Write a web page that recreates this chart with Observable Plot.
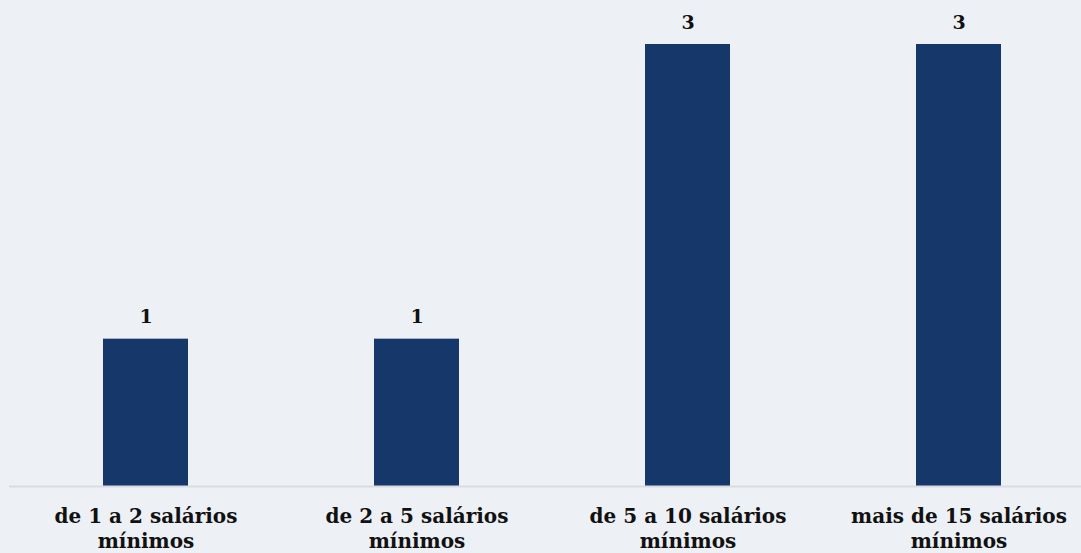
<!DOCTYPE html>
<html>
<head>
<meta charset="utf-8">
<script src="https://cdn.jsdelivr.net/npm/d3@7"></script>
<script src="https://cdn.jsdelivr.net/npm/@observablehq/plot@0.6"></script>
<style>
  html, body { margin: 0; padding: 0; background: #edf0f5; }
  #chart svg { display: block; }
</style>
</head>
<body>
<div id="chart"></div>
<script>
const categories = ["de 1 a 2 salários mínimos", "de 2 a 5 salários mínimos", "de 5 a 10 salários mínimos", "mais de 15 salários mínimos"];
const values = [1, 1, 3, 3];
const tickLabels = ["de 1 a 2 salários\nmínimos", "de 2 a 5 salários\nmínimos", "de 5 a 10 salários\nmínimos", "mais de 15 salários\nmínimos"];

const data = categories.map((c, i) => ({category: c, value: values[i]}));
const font = "Georgia, 'DejaVu Serif', serif";

const chart = Plot.plot({
  width: 1081,
  height: 553,
  marginLeft: 9,
  marginRight: 0,
  marginTop: 44,
  marginBottom: 67,
  style: {background: "#edf0f5", fontFamily: font},
  x: {domain: categories, range: [9, 1095], paddingInner: 0.687, paddingOuter: 0.3435, align: 0.5},
  y: {domain: [0, 3], range: [486, 44], axis: null},
  marks: [
    Plot.barY(data, {x: "category", y: "value", fill: "#16376a"}),
    Plot.ruleY([0], {stroke: "#d9dbdf", strokeWidth: 2}),
    Plot.text(data, {x: "category", y: "value", text: d => String(d.value), dy: -22, fontSize: 19, fontWeight: "bold", fill: "#111"}),
    Plot.axisX({
      tickSize: 0,
      tickPadding: 19,
      tickFormat: (d) => tickLabels[categories.indexOf(d)],
      fontSize: 20,
      fontWeight: "bold",
      fill: "#111",
      lineHeight: 1.25,
      label: null
    })
  ]
});
document.getElementById("chart").appendChild(chart);
</script>
</body>
</html>
